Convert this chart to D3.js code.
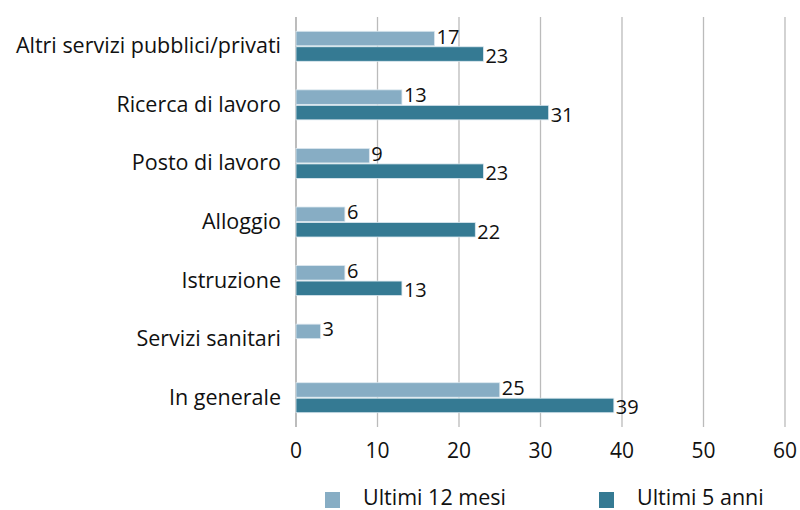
<!DOCTYPE html>
<html>
<head>
<meta charset="utf-8">
<script src="https://cdn.jsdelivr.net/npm/d3@7"></script>
<style>
  body { margin: 0; background: #fff; }
  svg text { font-family: "Open Sans", sans-serif; fill: #111; }
</style>
</head>
<body>
<div id="chart"></div>
<script>
const categories = ["Altri servizi pubblici/privati", "Ricerca di lavoro", "Posto di lavoro", "Alloggio", "Istruzione", "Servizi sanitari", "In generale"];
const last12months = [17, 13, 9, 6, 6, 3, 25];
const last5years = [23, 31, 23, 22, 13, null, 39];
const seriesNames = ["Ultimi 12 mesi", "Ultimi 5 anni"];
const seriesColors = ["#87adc4", "#357a93"];
const xTicks = [0, 10, 20, 30, 40, 50, 60];

const width = 800, height = 510;
const margin = { top: 17, right: 15, bottom: 83, left: 296 };

const svg = d3.select("#chart").append("svg")
  .attr("width", width)
  .attr("height", height);

const x = d3.scaleLinear().domain([0, 60]).range([margin.left, 785]);
const y = d3.scaleBand().domain(categories).range([margin.top, height - margin.bottom]);
const barH = 14.5;

// gridlines
svg.append("g").selectAll("line").data(xTicks).join("line")
  .attr("x1", d => x(d)).attr("x2", d => x(d))
  .attr("y1", margin.top).attr("y2", height - margin.bottom)
  .attr("stroke", d => d === 0 ? "#999" : "#bbb")
  .attr("stroke-width", 1.3);

// tick labels
svg.append("g").selectAll("text").data(xTicks).join("text")
  .attr("x", d => x(d)).attr("y", 458)
  .attr("text-anchor", "middle")
  .style("font-size", "21px")
  .text(d => d);

// category labels
svg.append("g").selectAll("text").data(categories).join("text")
  .attr("x", 281).attr("y", d => y(d) + y.bandwidth() / 2 + 7)
  .attr("text-anchor", "end")
  .style("font-size", "21.5px")
  .text(d => d);

const rows = categories.map((c, i) => [
  { cat: c, s: 0, v: last12months[i] },
  { cat: c, s: 1, v: last5years[i] }
]).flat().filter(d => d.v != null);

const barY = d => y(d.cat) + y.bandwidth() / 2 - barH - 0.5 + d.s * (barH + 1);

svg.append("g").selectAll("rect").data(rows).join("rect")
  .attr("x", x(0))
  .attr("y", barY)
  .attr("width", d => x(d.v) - x(0))
  .attr("height", barH)
  .attr("fill", d => seriesColors[d.s])
  .attr("stroke", "#dce8ef")
  .attr("stroke-width", 0.8);

svg.append("g").selectAll("text").data(rows).join("text")
  .attr("x", d => x(d.v) + 2)
  .attr("y", d => barY(d) + barH / 2 + 7 + (d.s === 0 ? -2 : 2))
  .style("font-size", "20px")
  .text(d => d.v);

// legend
const legendX = [325, 599];
const lg = svg.append("g").selectAll("g").data(seriesNames).join("g")
  .attr("transform", (d, i) => `translate(${legendX[i]},0)`);
lg.append("rect").attr("x", 0).attr("y", 492).attr("width", 15).attr("height", 16)
  .attr("fill", (d, i) => seriesColors[i]);
lg.append("text").attr("x", 38).attr("y", 505)
  .style("font-size", "21.5px")
  .text(d => d);
</script>
</body>
</html>
